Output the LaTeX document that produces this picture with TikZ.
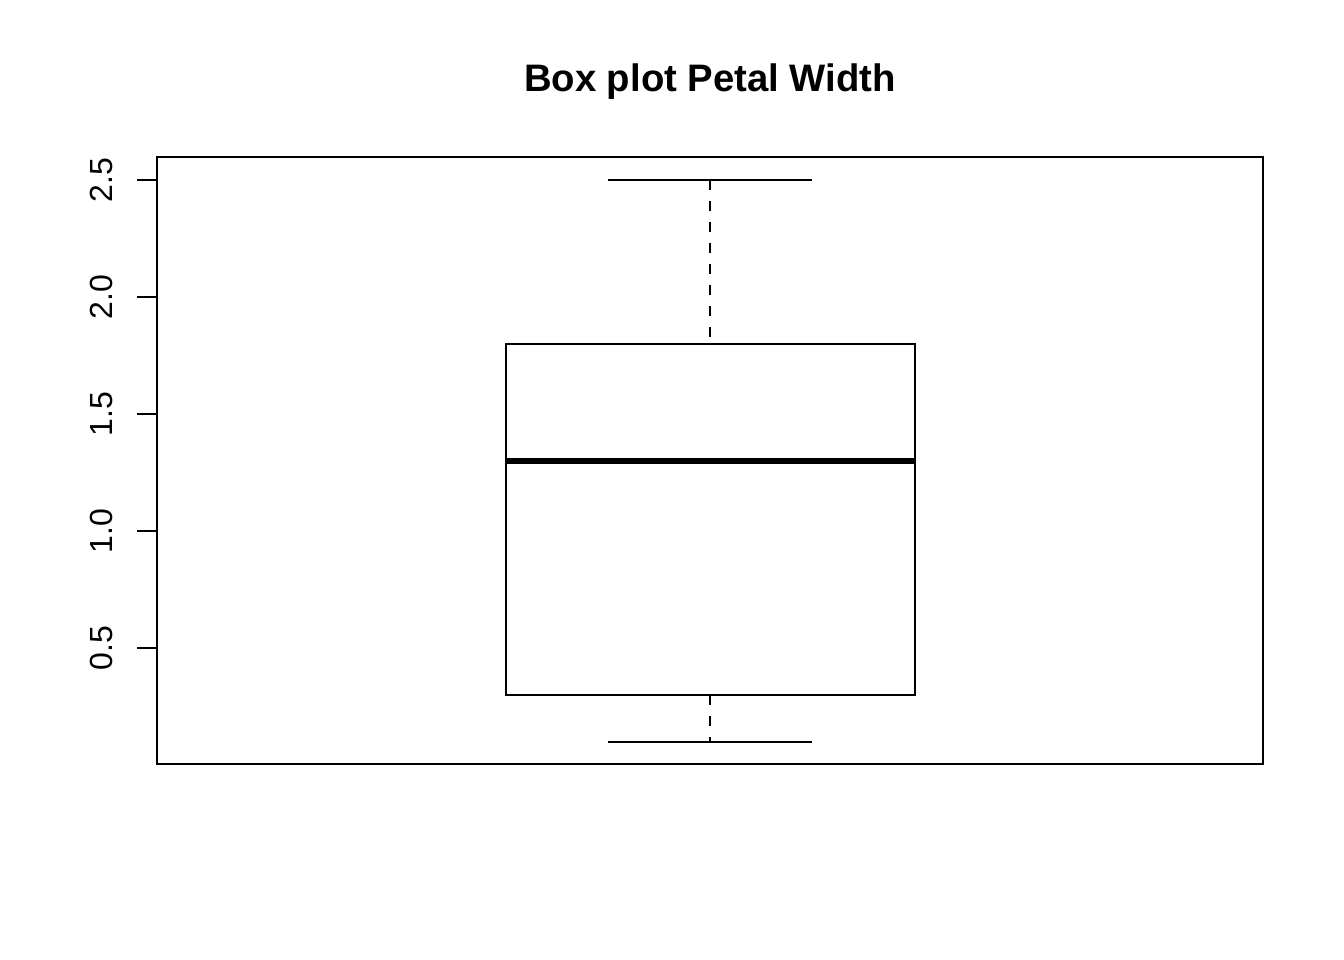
\documentclass[tikz,border=0pt]{standalone}
\usepackage{fontspec}
\setmainfont{Liberation Sans}
\begin{document}
\begin{tikzpicture}[x=1pt,y=-1pt,
  ln/.style={line width=2pt,line cap=butt},
  whisk/.style={line width=2pt,dash pattern=on 10pt off 11pt},
  med/.style={line width=6pt,line cap=butt},
  ticklab/.style={rotate=90,anchor=base,font=\fontsize{32}{36}\selectfont,inner sep=0pt}]
\useasboundingbox (0,0) rectangle (1344,960);
\node[anchor=base,font=\fontsize{38.3}{44}\selectfont\bfseries,inner sep=0pt] (title) at (710,92) {Box plot Petal Width};
% frame
\draw[ln] (157,157) rectangle (1263,764);
% y axis
\draw[ln] (157,180) -- (157,648);
\foreach \v/\y in {2.5/180,2.0/297,1.5/414,1.0/531,0.5/648}{
  \draw[ln] (157,\y) -- (137,\y);
  \node[ticklab] at (112,\y) {\v};
}
% box
\coordinate (cap1l) at (608,180);
\coordinate (cap1r) at (812,180);
\coordinate (wt) at (710,180);
\coordinate (q3) at (710,343.8);
\coordinate (q1) at (710,694.8);
\coordinate (wb) at (710,741.6);
\coordinate (cap0l) at (608,741.6);
\coordinate (cap0r) at (812,741.6);
\draw[whisk] (wt) -- (q3);
\draw[whisk] (q1) -- (wb);
\draw[ln] (cap1l) -- (cap1r);
\draw[ln] (cap0l) -- (cap0r);
\draw[ln] (506,343.8) rectangle (915,694.8);
\draw[med] (506,460.8) -- (915,460.8);
\end{tikzpicture}
\end{document}
